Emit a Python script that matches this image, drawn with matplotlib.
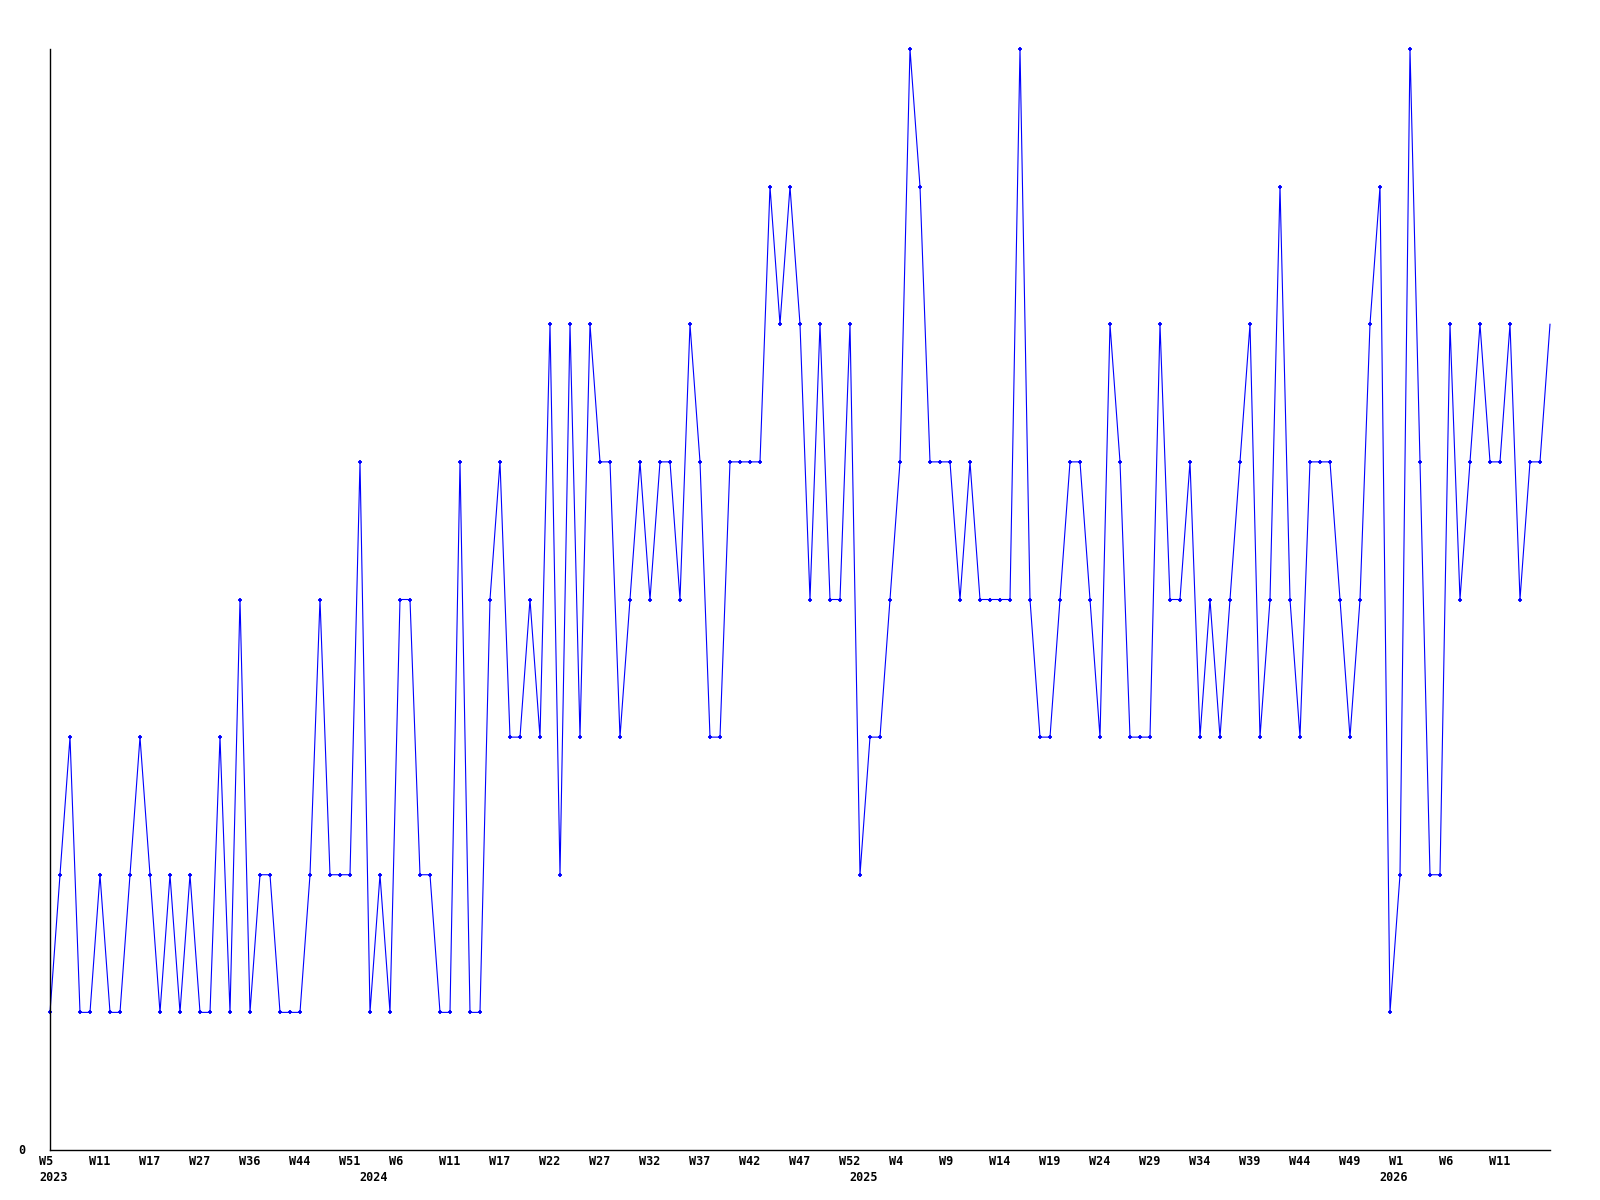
import matplotlib.pyplot as plt

# valores semanais (um ponto por semana com dados)
valores = [1, 2, 3, 1, 1, 2, 1, 1, 2, 3,
           2, 1, 2, 1, 2, 1, 1, 3, 1, 4,
           1, 2, 2, 1, 1, 1, 2, 4, 2, 2,
           2, 5, 1, 2, 1, 4, 4, 2, 2, 1,
           1, 5, 1, 1, 4, 5, 3, 3, 4, 3,
           6, 2, 6, 3, 6, 5, 5, 3, 4, 5,
           4, 5, 5, 4, 6, 5, 3, 3, 5, 5,
           5, 5, 7, 6, 7, 6, 4, 6, 4, 4,
           6, 2, 3, 3, 4, 5, 8, 7, 5, 5,
           5, 4, 5, 4, 4, 4, 4, 8, 4, 3,
           3, 4, 5, 5, 4, 3, 6, 5, 3, 3,
           3, 6, 4, 4, 5, 3, 4, 3, 4, 5,
           6, 3, 4, 7, 4, 3, 5, 5, 5, 4,
           3, 4, 6, 7, 1, 2, 8, 5, 2, 2,
           6, 4, 5, 6, 5, 5, 6, 4, 5, 5,
           6]

# rotulos das semanas (um a cada 5 pontos)
semanas = ["W5", "W11", "W17", "W27", "W36", "W44", "W51",
           "W6", "W11", "W17", "W22", "W27", "W32", "W37", "W42", "W47", "W52",
           "W4", "W9", "W14", "W19", "W24", "W29", "W34", "W39", "W44", "W49",
           "W1", "W6", "W11"]

# anos e o indice do primeiro ponto de cada ano
anos = ["2023", "2024", "2025", "2026"]
inicio_ano = [0, 32, 81, 134]

x = list(range(len(valores)))

fig = plt.figure(figsize=(16, 12), dpi=100)
ax = fig.add_axes([50 / 1600, 50 / 1200, 1500 / 1600, 1101 / 1200])

# linha azul com marcadores pequenos (o ultimo ponto fica na borda, sem marcador)
ax.plot(x, valores, color="#0000ff", linewidth=0.8, marker="+",
        markersize=3.5, markeredgewidth=1.3, markevery=list(range(len(valores) - 1)),
        clip_on=False)

ax.set_xlim(0, len(valores) - 1)
ax.set_ylim(0, max(valores))

for lado in ["top", "right"]:
    ax.spines[lado].set_visible(False)
for lado in ["left", "bottom"]:
    ax.spines[lado].set_color("black")
    ax.spines[lado].set_linewidth(1.0)

ax.set_xticks([])
ax.set_yticks([])

fonte = dict(family="DejaVu Sans Mono", weight="bold", fontsize=8.5)

# rotulos do eixo x
for i, rotulo in enumerate(semanas):
    ax.annotate(rotulo, xy=(i * 5, 0), xycoords=("data", "axes fraction"),
                xytext=(-7.9, -8), textcoords="offset points",
                ha="left", va="center", **fonte)

for pos, ano in zip(inicio_ano, anos):
    ax.annotate(ano, xy=(pos, 0), xycoords=("data", "axes fraction"),
                xytext=(-7.9, -19.5), textcoords="offset points",
                ha="left", va="center", **fonte)

# unico rotulo do eixo y
ax.annotate("0", xy=(0, 0), xycoords="data", xytext=(-17.5, 0),
            textcoords="offset points", ha="right", va="center", **fonte)

plt.savefig("out.png", dpi=100)
